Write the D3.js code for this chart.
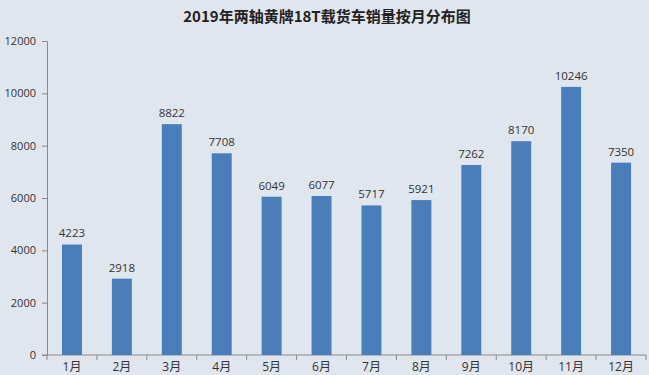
<!DOCTYPE html>
<html>
<head>
<meta charset="utf-8">
<script src="https://cdn.jsdelivr.net/npm/d3@7"></script>
<style>
  body { margin: 0; background: #dfe6ee; }
  svg { display: block; }
</style>
</head>
<body>
<svg id="chart" width="649" height="375"></svg>
<script>
// 2019 monthly sales, two-axle yellow-plate 18T trucks
const months = ["1月", "2月", "3月", "4月", "5月", "6月", "7月", "8月", "9月", "10月", "11月", "12月"];
const sales = [4223, 2918, 8822, 7708, 6049, 6077, 5717, 5921, 7262, 8170, 10246, 7350];
const yTicks = [0, 2000, 4000, 6000, 8000, 10000, 12000];

const width = 649, height = 375;
const margin = { top: 41, right: 3, bottom: 20, left: 47 };
const chartWidth = width - margin.left - margin.right;
const chartHeight = height - margin.top - margin.bottom;

const svg = d3.select("#chart");
const font = "'Open Sans', 'Noto Sans CJK SC', Arial, sans-serif";

svg.append("rect").attr("width", width).attr("height", height).attr("fill", "#dfe6ee");

svg.append("text")
  .attr("x", 327)
  .attr("y", 22)
  .style("text-anchor", "middle")
  .style("font-family", "'Noto Sans CJK SC', sans-serif")
  .style("font-size", "15px")
  .style("font-weight", "bold")
  .style("fill", "#222")
  .text("2019年两轴黄牌18T载货车销量按月分布图");

const g = svg.append("g").attr("transform", `translate(${margin.left},${margin.top})`);

const xScale = d3.scaleBand().domain(months).range([0, chartWidth]).paddingInner(0.6).paddingOuter(0.3);
const yScale = d3.scaleLinear().domain([0, 12000]).range([chartHeight, 0]);

// y axis
const yAxis = g.append("g").call(d3.axisLeft(yScale).tickValues(yTicks).tickFormat(d3.format("d")).tickSize(5).tickPadding(6));
yAxis.selectAll("path, line").attr("stroke", "#8a8a8a");
yAxis.selectAll("text").style("font-family", font).style("font-size", "11px").style("fill", "#333");

// x axis: ticks at category boundaries
const bounds = d3.range(months.length + 1).map(i => i * chartWidth / months.length);
const xAxis = g.append("g").attr("transform", `translate(0,${chartHeight})`);
xAxis.append("line").attr("x1", -5).attr("x2", chartWidth).attr("stroke", "#8a8a8a");
xAxis.selectAll(".bt").data(bounds).enter().append("line")
  .attr("x1", d => d).attr("x2", d => d).attr("y1", 0).attr("y2", 5).attr("stroke", "#8a8a8a");
xAxis.selectAll(".lab").data(months).enter().append("text")
  .attr("x", d => xScale(d) + xScale.bandwidth() / 2)
  .attr("y", 16)
  .style("text-anchor", "middle")
  .style("font-family", font)
  .style("font-size", "12px")
  .style("fill", "#333")
  .text(d => d);

// bars
const data = months.map((m, i) => ({ month: m, value: sales[i] }));
g.selectAll(".bar").data(data).enter().append("rect")
  .attr("x", d => xScale(d.month))
  .attr("y", d => yScale(d.value))
  .attr("width", xScale.bandwidth())
  .attr("height", d => chartHeight - yScale(d.value))
  .attr("fill", "#4a7ebb");

g.selectAll(".val").data(data).enter().append("text")
  .attr("x", d => xScale(d.month) + xScale.bandwidth() / 2)
  .attr("y", d => yScale(d.value) - 7)
  .style("text-anchor", "middle")
  .style("font-family", font)
  .style("font-size", "11.5px")
  .style("fill", "#333")
  .text(d => d.value);
</script>
</body>
</html>
